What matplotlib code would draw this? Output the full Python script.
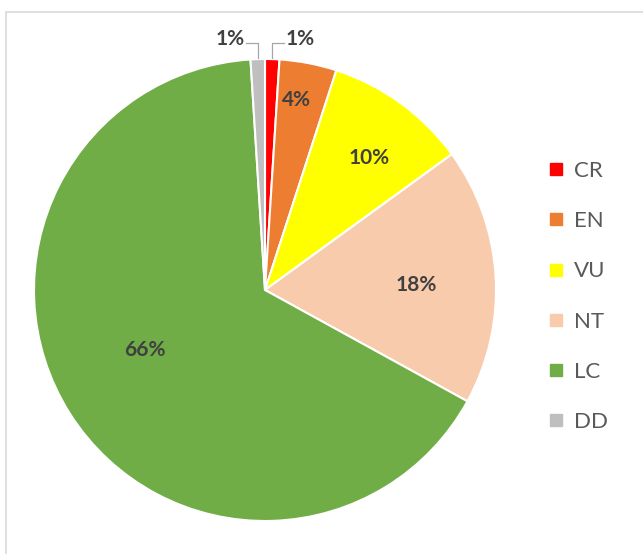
import matplotlib
matplotlib.use('Agg')
import matplotlib.pyplot as plt
import numpy as np
from matplotlib.lines import Line2D
from matplotlib.patches import Rectangle

# IUCN categories and share of species (%)
categories = ['CR', 'EN', 'VU', 'NT', 'LC', 'DD']
values = [1, 4, 10, 18, 66, 1]
colors = ['#FF0000', '#ED7D31', '#FFFF00', '#F8CBAD', '#70AD47', '#BFBFBF']

plt.rcParams['font.family'] = ['Lato', 'DejaVu Sans']

W, H = 643, 554
fig = plt.figure(figsize=(W / 100, H / 100), dpi=100)

# pie centre / radius in pixels
cx, cy, r = 265, 290, 231
ax = fig.add_axes([(cx - r) / W, (H - cy - r) / H, 2 * r / W, 2 * r / H])

wedges, _ = ax.pie(values, colors=colors, startangle=90, counterclock=False,
                   wedgeprops=dict(edgecolor='white', linewidth=1.5))
ax.set_xlim(-1, 1)
ax.set_ylim(-1, 1)
ax.set_aspect('equal')
ax.axis('off')

# label placement: distance from centre (fraction of radius) and angle nudge
# (degrees); None = outside label with leader line
label_dist = [None, 0.834, 0.73, 0.654, 0.58, None]
label_turn = [0, 1.5, -2.3, -1.7, -5.8, 0]
total = sum(values)
for w, v, d, t in zip(wedges, values, label_dist, label_turn):
    ang = np.deg2rad((w.theta1 + w.theta2) / 2 + t)
    txt = f'{round(100 * v / total)}%'
    if d is not None:
        ax.text(d * np.cos(ang), d * np.sin(ang), txt, ha='center', va='center',
                fontsize=15, fontweight='bold', color='#404040')
    else:
        ex, ey = 1.005 * np.cos(ang), 1.005 * np.sin(ang)
        side = np.sign(np.cos(ang))
        ky = 1.069
        hx = ex + side * 0.05
        ax.plot([ex, ex, hx], [ey, ky, ky], color='#A6A6A6', lw=0.9,
                clip_on=False)
        ax.text(hx + side * 0.006, 1.088, txt, ha='left' if side > 0 else 'right',
                va='center', fontsize=15, fontweight='bold', color='#404040')

# legend
handles = [Line2D([], [], marker='s', linestyle='none', markersize=8,
                  markerfacecolor=c, markeredgecolor=c) for c in colors]
fig.legend(handles, categories, loc='upper left',
           bbox_to_anchor=(528 / W, 1 - 141 / H), frameon=False,
           fontsize=16, labelcolor='#595959', handlelength=0.7,
           handletextpad=0.45, labelspacing=1.36)

# chart frame edge
fig.add_artist(Rectangle((6 / W, -0.1), 1.2, (H - 12) / H + 0.1,
                         transform=fig.transFigure, fill=False,
                         edgecolor='#D9D9D9', lw=1.2))

fig.savefig('out.png', dpi=100)
